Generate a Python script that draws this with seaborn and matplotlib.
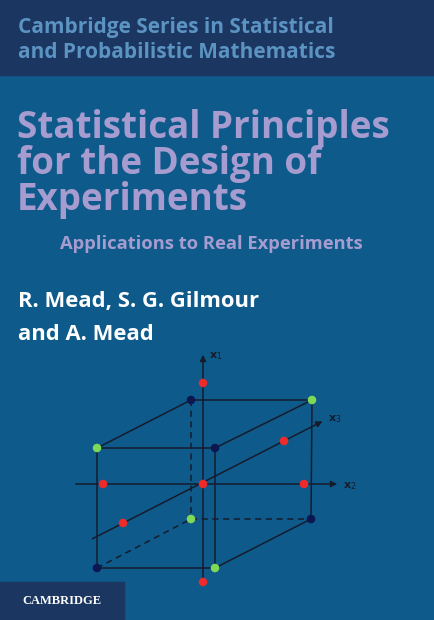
import pandas as pd
import matplotlib.pyplot as plt
import seaborn as sns

# design points in pixel space of the cover (x right, y down)
point_x = [203, 191, 312, 97, 215, 103, 203, 304, 284, 123, 191, 311, 97, 215, 203]
point_y = [383, 400, 400, 448, 448, 484, 484, 484, 441, 523, 519, 519, 568, 568, 582]
point_kind = ["axial", "corner_a", "corner_b", "corner_b", "corner_a", "axial", "axial", "axial",
              "axial", "axial", "corner_b", "corner_a", "corner_a", "corner_b", "axial"]

# cube edges: (x0, y0, x1, y1, dashed)
edges = [
    (97, 448, 215, 448, False), (215, 448, 215, 568, False), (215, 568, 97, 568, False),
    (97, 568, 97, 448, False), (191, 400, 312, 400, False), (312, 400, 311, 519, False),
    (97, 448, 191, 400, False), (215, 448, 312, 400, False), (215, 568, 311, 519, False),
    (191, 400, 191, 519, True), (191, 519, 311, 519, True), (97, 568, 191, 519, True),
]
# axes arrows: (x0, y0, x1, y1)
axes_lines = [(203, 588, 203, 352), (73, 484, 340, 484), (90, 540, 325, 420)]

bg = "#0d5a8b"
fig = plt.figure(figsize=(4.34, 6.2), dpi=100)
fig.patch.set_facecolor(bg)
ax = fig.add_axes([0, 0, 1, 1])

ax.add_patch(plt.Rectangle((0, 0), 434, 75, color="#1b3660", zorder=0))
ax.add_patch(plt.Rectangle((0, 582), 124, 38, color="#1b3660", zorder=0))

ax.text(18, 28, "Cambridge Series in Statistical", color="#5b93c2", fontsize=15,
        fontweight="bold", va="center", family="Open Sans")
ax.text(18, 52, "and Probabilistic Mathematics", color="#5b93c2", fontsize=15,
        fontweight="bold", va="center", family="Open Sans")
for i, line in enumerate(["Statistical Principles", "for the Design of", "Experiments"]):
    ax.text(17, 128 + 36 * i, line, color="#a69ccf", fontsize=26.5, fontweight="bold",
            va="center", family="Open Sans")
ax.text(60, 244, "Applications to Real Experiments", color="#a69ccf", fontsize=13.2,
        fontweight="bold", va="center", family="Open Sans")
ax.text(18, 301, "R. Mead, S. G. Gilmour", color="white", fontsize=15.8, fontweight="bold",
        va="center", family="Open Sans")
ax.text(18, 334, "and A. Mead", color="white", fontsize=15.8, fontweight="bold",
        va="center", family="Open Sans")
ax.text(62, 601, "CAMBRIDGE", color="white", fontsize=9, fontweight="bold",
        ha="center", va="center", family="Liberation Serif")

for x0, y0, x1, y1, dashed in edges:
    ax.plot([x0, x1], [y0, y1], color="#161c2c", lw=1.1, ls=(0, (4, 3)) if dashed else "-", zorder=2)
for x0, y0, x1, y1 in axes_lines:
    ax.annotate("", xy=(x1, y1), xytext=(x0, y0),
                arrowprops=dict(arrowstyle="-|>", color="#161c2c", lw=1.1, mutation_scale=9), zorder=2)
ax.text(209, 356, "x$_1$", color="#161c2c", fontsize=8, fontweight="bold", va="center")
ax.text(343, 486, "x$_2$", color="#161c2c", fontsize=8, fontweight="bold", va="center")
ax.text(328, 419, "x$_3$", color="#161c2c", fontsize=8, fontweight="bold", va="center")

df = pd.DataFrame({"x": point_x, "y": point_y, "kind": point_kind})
sns.scatterplot(data=df, x="x", y="y", hue="kind", ax=ax, s=38, edgecolor="none", legend=False,
                palette={"axial": "#ee2a2a", "corner_a": "#0c1650", "corner_b": "#7ed957"}, zorder=3)
ax.set_xlim(0, 434)
ax.set_ylim(620, 0)
ax.axis("off")

fig.savefig("out.png", dpi=100, facecolor=bg)
